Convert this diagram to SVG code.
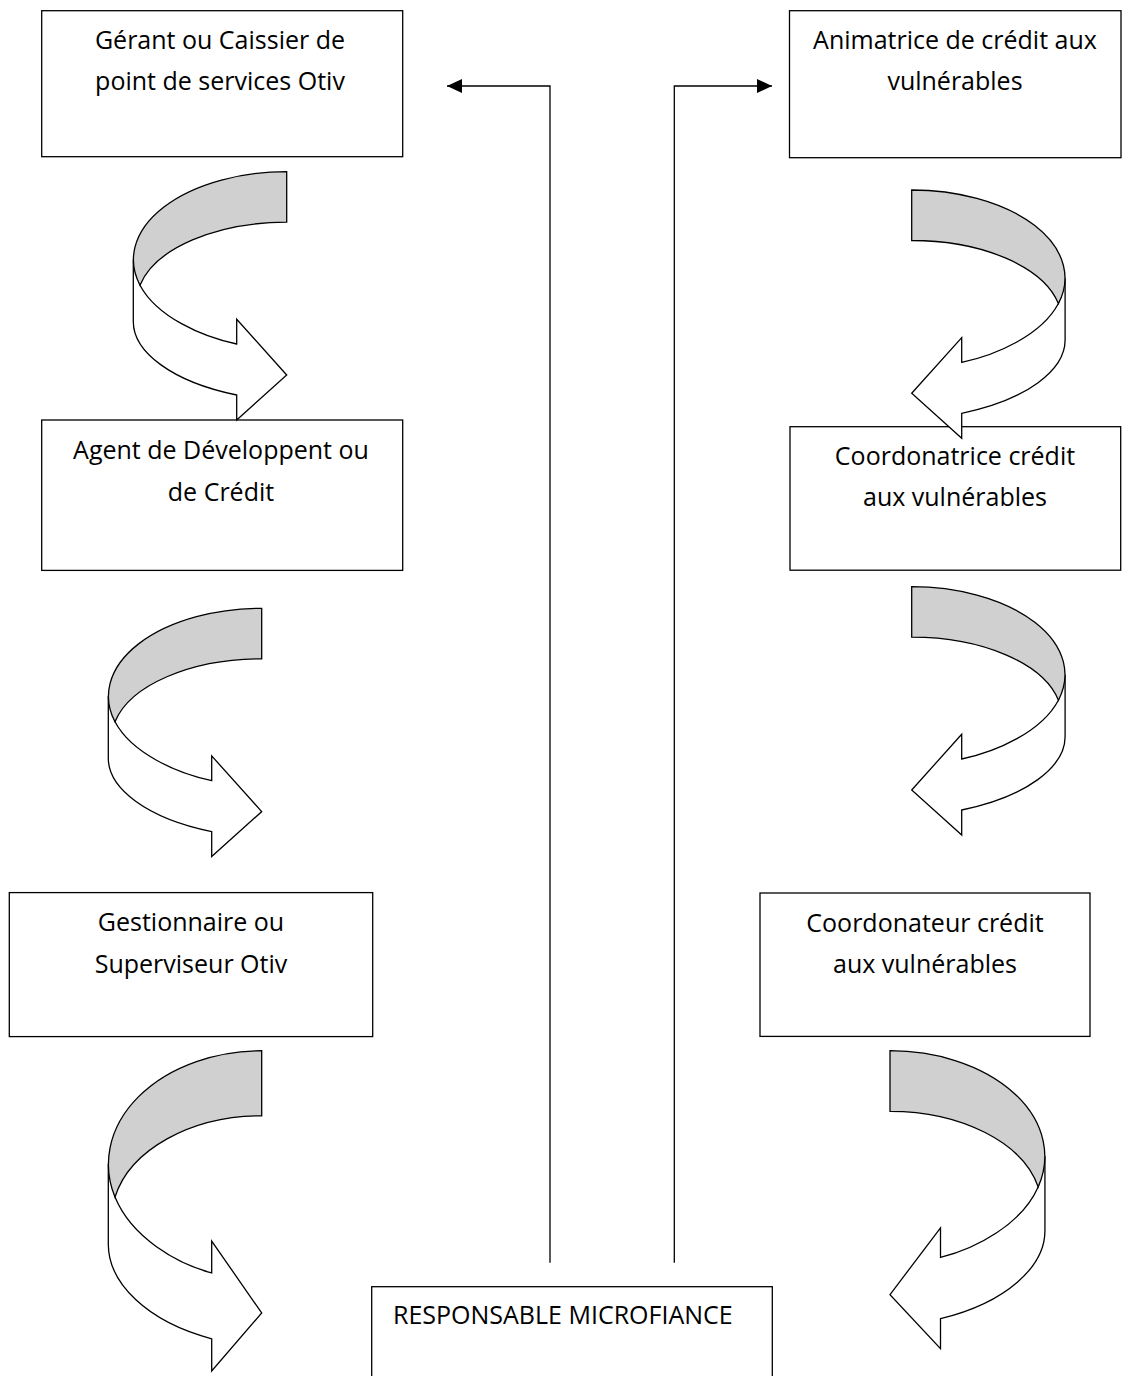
<svg xmlns="http://www.w3.org/2000/svg" xmlns:xlink="http://www.w3.org/1999/xlink" width="1131" height="1376" viewBox="0 0 1131 1376">
<style>
.box{fill:#fff;stroke:#000;stroke-width:1.3}
.lbl{font-family:"Open Sans","Liberation Sans",sans-serif;font-size:25px;fill:#000;text-anchor:middle}
.conn{fill:none;stroke:#000;stroke-width:1.3}
.gray{fill:#d0d0d0;stroke:#000;stroke-width:1.3;stroke-linejoin:miter}
.white{fill:#fff;stroke:#000;stroke-width:1.3;stroke-linejoin:miter}
</style>
<defs>
<marker id="ah" markerUnits="userSpaceOnUse" markerWidth="16" markerHeight="14" refX="15" refY="7" orient="auto">
<path d="M0,0 L15,7 L0,14 Z" fill="#000"/>
</marker>
<g id="curl">
<path class="white" vector-effect="non-scaling-stroke" d="M-153.4,88 L-153.4,150 C-153.4,180 -115,210 -50,223.3 L-50,248.3 L0,203.3 L-50,147.6 L-50,172.3 C-85,165 -130,145 -146.7,113.5 Z"/>
<path class="gray" vector-effect="non-scaling-stroke" d="M0,0 A153.4,88 0 0 0 -146.7,113.5 A150,80 0 0 1 0,50.5 Z"/>
</g>
</defs>
<rect width="1131" height="1376" fill="#fff"/>

<g id="connectors">
<polyline class="conn" points="550,1262.7 550,86 447,86" marker-end="url(#ah)"/>
<polyline class="conn" points="674.3,1262.7 674.3,86 772,86" marker-end="url(#ah)"/>
</g>

<g id="node-gerant">
<rect class="box" x="41.7" y="10.7" width="361" height="146"/>
<text class="lbl" x="220" y="48.5">Gérant ou Caissier de</text>
<text class="lbl" x="220" y="90">point de services Otiv</text>
</g>
<g id="node-animatrice">
<rect class="box" x="789.5" y="10.7" width="331.5" height="147"/>
<text class="lbl" x="955" y="48.5">Animatrice de crédit aux</text>
<text class="lbl" x="955" y="90">vulnérables</text>
</g>
<g id="node-agent">
<rect class="box" x="41.7" y="420" width="361" height="150.4"/>
<text class="lbl" x="221" y="459">Agent de Développent ou</text>
<text class="lbl" x="221" y="501">de Crédit</text>
</g>
<g id="node-coordonatrice">
<rect class="box" x="790" y="426.7" width="330.7" height="143.5"/>
<text class="lbl" x="955" y="465">Coordonatrice crédit</text>
<text class="lbl" x="955" y="506">aux vulnérables</text>
</g>
<g id="node-gestionnaire">
<rect class="box" x="9.3" y="892.6" width="363.4" height="144"/>
<text class="lbl" x="191" y="931">Gestionnaire ou</text>
<text class="lbl" x="191" y="973">Superviseur Otiv</text>
</g>
<g id="node-coordonateur">
<rect class="box" x="760" y="893" width="330" height="143.4"/>
<text class="lbl" x="925" y="932">Coordonateur crédit</text>
<text class="lbl" x="925" y="973">aux vulnérables</text>
</g>
<g id="node-responsable">
<rect class="box" x="371.7" y="1286.7" width="400.6" height="120"/>
<text class="lbl" x="393" y="1324" style="text-anchor:start">RESPONSABLE MICROFIANCE</text>
</g>

<g id="curl-left-1"><use xlink:href="#curl" transform="translate(286.7,171.7)"/></g>
<g id="curl-left-2"><use xlink:href="#curl" transform="translate(261.7,608.3)"/></g>
<g id="curl-left-3"><use xlink:href="#curl" transform="translate(261.7,1050.7) scale(1,1.29)"/></g>
<g id="curl-right-1"><use xlink:href="#curl" transform="translate(911.7,190) scale(-1,1)"/></g>
<g id="curl-right-2"><use xlink:href="#curl" transform="translate(911.7,586.7) scale(-1,1)"/></g>
<g id="curl-right-3"><use xlink:href="#curl" transform="translate(890,1050.7) scale(-1.01,1.2)"/></g>
</svg>
